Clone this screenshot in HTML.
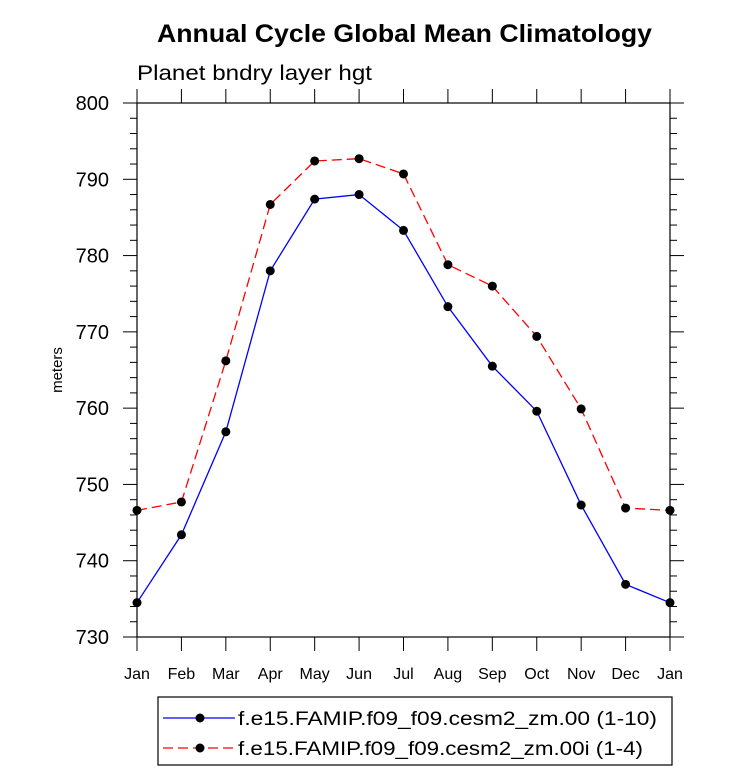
<!DOCTYPE html>
<html><head><meta charset="utf-8"><style>
body{margin:0;background:#fff}
text{font-family:"Liberation Sans",sans-serif}
</style></head><body>
<svg id="c" width="733" height="776" xmlns="http://www.w3.org/2000/svg">
<text x="157" y="42" font-size="25" font-weight="bold" textLength="495" lengthAdjust="spacingAndGlyphs">Annual Cycle Global Mean Climatology</text>
<text x="137" y="80" font-size="21" textLength="235" lengthAdjust="spacingAndGlyphs">Planet bndry layer hgt</text>
<text transform="translate(62,370) rotate(-90)" font-size="15" text-anchor="middle">meters</text>
<g id="axes"></g><g id="series"></g>
<rect x="158" y="697" width="514" height="68" fill="none" stroke="#000" stroke-width="1.2"/>
<g>
<line x1="163" y1="718" x2="235" y2="718" stroke="#0000ff" stroke-width="1.3"/>
<circle cx="200" cy="718" r="4.5" fill="#000"/>
<text x="238" y="725" font-size="19" textLength="419" lengthAdjust="spacingAndGlyphs">f.e15.FAMIP.f09_f09.cesm2_zm.00 (1-10)</text></g>
<g>
<line x1="163" y1="748" x2="235" y2="748" stroke="#ff0000" stroke-width="1.3" stroke-dasharray="10,5"/>
<circle cx="200" cy="748" r="4.5" fill="#000"/>
<text x="238" y="755" font-size="19" textLength="405" lengthAdjust="spacingAndGlyphs">f.e15.FAMIP.f09_f09.cesm2_zm.00i (1-4)</text></g>
</svg>
<script>
const months=["Jan","Feb","Mar","Apr","May","Jun","Jul","Aug","Sep","Oct","Nov","Dec","Jan"];
const yTicks=[730,740,750,760,770,780,790,800];
const blue=[734.5,743.4,756.9,778.0,787.4,788.0,783.3,773.3,765.5,759.6,747.3,736.9,734.5];
const red=[746.6,747.7,766.2,786.7,792.4,792.7,790.7,778.8,776.0,769.4,759.9,746.9,746.6];
const L=137,R=670,T=103,B=637,ymin=730,ymax=800;
const xs=i=>L+(R-L)*i/(months.length-1);
const ys=v=>B-(v-ymin)/(ymax-ymin)*(B-T);
const NS="http://www.w3.org/2000/svg";
function mk(p,t,a){const e=document.createElementNS(NS,t);for(const k in a)e.setAttribute(k,a[k]);p.appendChild(e);return e;}
const ax=document.getElementById('axes');
const fr=mk(ax,'rect',{x:L,y:T,width:R-L,height:B-T,fill:'none',stroke:'#000','stroke-width':1.2});


months.forEach((m,i)=>{const x=xs(i);
mk(ax,'line',{x1:x,y1:B,x2:x,y2:B+14,stroke:'#000'});
mk(ax,'line',{x1:x,y1:T,x2:x,y2:T-14,stroke:'#000'});
const t=mk(ax,'text',{x:x,y:B+42,'font-size':16,'text-anchor':'middle'});t.textContent=m;

});
for(let v=ymin;v<=ymax;v+=2){const y=ys(v);const maj=(v%10===0);const len=maj?14:7;
mk(ax,'line',{x1:L,y1:y,x2:L-len,y2:y,stroke:'#000'});
mk(ax,'line',{x1:R,y1:y,x2:R+len,y2:y,stroke:'#000'});}
yTicks.forEach(v=>{const t=mk(ax,'text',{x:L-28,y:ys(v)+7,'font-size':20,'text-anchor':'end'});t.textContent=v;

});
const sg=document.getElementById('series');
function draw(d,col,dash,name){const g=mk(sg,'g',{});


mk(g,'polyline',{points:d.map((v,i)=>xs(i)+','+ys(v)).join(' '),fill:'none',stroke:col,'stroke-width':1.3,'stroke-dasharray':dash});
d.forEach((v,i)=>{const c=mk(g,'circle',{cx:xs(i),cy:ys(v),r:4.5,fill:'#000'});

});}
draw(blue,'#0000ff','none','series-00');
draw(red,'#ff0000','10,5','series-00i');
</script>
</body></html>
